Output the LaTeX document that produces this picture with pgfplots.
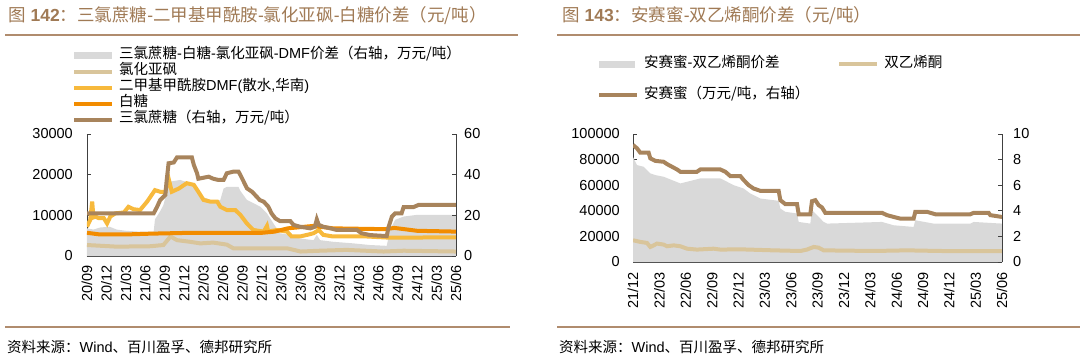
\documentclass[border=0pt]{standalone}
\usepackage{fontspec}
\setmainfont{Liberation Sans}
\newfontfamily\cjk{Noto Sans CJK SC}
\usepackage{pgfplots}
\pgfplotsset{compat=1.18}
\newcommand\zh[1]{{\cjk #1}}
\definecolor{brownL}{HTML}{A8845C}
\definecolor{beige}{HTML}{D9C59B}
\definecolor{grayF}{HTML}{D9D9D9}
\definecolor{sugar}{HTML}{F28C00}
\definecolor{dmf}{HTML}{F7B93C}
\definecolor{titlec}{HTML}{A07A55}
\definecolor{rulec}{HTML}{B08C6E}
\pgfplotsset{
  base/.style={scale only axis, width=369pt, xmin=0,
    scaled y ticks=false,
    ticklabel style={font=\fontsize{14.5}{16}\selectfont, inner sep=0pt},
    /pgf/number format/assume math mode=true,
    /pgf/number format/fixed,
    /pgf/number format/precision=0,
    /pgf/number format/1000 sep={},
    axis line style={black!75, line width=0.8pt},
    tick style={black!75, line width=0.8pt},
    major tick length=4pt, tick align=inside,
    legend image code/.code={\draw[##1] (0pt,0pt) -- (38pt,0pt);},
  },
  lw/.style={line width=4pt},
}
\begin{document}
\begin{tikzpicture}
% ---------------- left panel ----------------
\node[anchor=west, text=titlec, font=\fontsize{17.5}{20}\selectfont, inner sep=0pt] at (8pt,344pt)
  {\zh{图} \textbf{142}\zh{：三氯蔗糖}-\zh{二甲基甲酰胺}-\zh{氯化亚砜}-\zh{白糖价差（元/吨）}};
\draw[rulec, line width=1.5pt] (5pt,325pt) -- (518pt,325pt);
\draw[rulec, line width=1.5pt] (5pt,33pt) -- (510pt,33pt);
\node[anchor=west, font=\fontsize{14.5}{16}\selectfont, inner sep=0pt] at (7pt,13pt)
  {\zh{资料来源：}Wind\zh{、百川盈孚、德邦研究所}};

\begin{axis}[base, at={(87pt,104pt)}, anchor=south west, height=122pt,
  xmax=57, ymin=0, ymax=30000, ytick={0,10000,20000,30000},
  axis y line*=left, axis x line*=bottom,
  xtick={0,3,...,57},
  xticklabels={20/09,20/12,21/03,21/06,21/09,21/12,22/03,22/06,22/09,22/12,23/03,23/06,23/09,23/12,24/03,24/06,24/09,24/12,25/03,25/06},
  xticklabel style={rotate=90, anchor=east}, xticklabel shift=9pt,
  yticklabel shift=14pt,
  legend style={at={(axis description cs:-0.0407,1.71)}, anchor=north west,
    draw=none, fill=none, inner sep=0pt, row sep=0pt, column sep=5pt,
    font=\fontsize{14.5}{16}\selectfont,
    nodes={inner sep=0pt, text height=11pt, text depth=5pt}},
  legend cell align=left,
]
\addplot[fill=grayF, draw=none, area legend,
  legend image code/.code={\fill[grayF] (0pt,-3.5pt) rectangle (38pt,3.5pt);}] coordinates {
(0,6800)(1,6500)(2,7000)(3.5,7200)(4.6,6500)(6,6200)(8,6000)(10.3,6000)(10.5,9000)(11.3,11000)(11.8,12500)(12.3,15500)(12.9,18300)(14.4,18700)(15.4,18200)(16.5,17000)(17.5,14600)(18.5,14200)(19.5,13400)(20.6,13800)(21.1,16600)(21.6,17000)(23.4,17000)(23.7,16000)(24.7,13800)(25.7,13000)(26.8,12100)(27.8,10500)(28.8,8000)(29.8,5600)(31.4,5200)(32.9,4300)(35,3900)(35.5,5200)(36,3900)(38,3500)(41.2,3100)(43.7,2700)(46.3,2500)(46.8,6400)(47.6,8900)(48.9,9700)(50.9,10100)(57,10100)
} \closedcycle;
\addlegendentry{\zh{三氯蔗糖}-\zh{白糖}-\zh{氯化亚砜}-DMF\zh{价差（右轴，万元/吨）}}
\addplot[beige, lw] coordinates {
(0,2700)(4.6,2300)(9.8,2400)(11.8,2700)(12.9,4800)(13.9,3900)(15.9,3500)(17.5,3100)(19.5,3300)(21.6,2800)(22.6,1900)(28.3,1900)(30.9,1900)(33,1100)(36,1300)(40.1,1500)(45.8,1100)(48.9,1300)(57,1100)
};
\addlegendentry{\zh{氯化亚砜}}
\addplot[dmf, lw] coordinates {
(0,7200)(0.5,8900)(0.8,13400)(1.0,9500)(1.3,9700)(1.8,9300)(2.6,9300)(3.1,8000)(3.6,9700)(4.4,10500)(5.7,10700)(6.4,12100)(7.2,11500)(8.2,11300)(9.3,13400)(10.5,16200)(11.3,15800)(12.1,15800)(12.6,19100)(13.1,15800)(14.2,16600)(15.4,17900)(16.5,17500)(17.2,15800)(18,13800)(19,13400)(20.1,13400)(20.6,12100)(21.6,11300)(22.9,11300)(23.7,10100)(24.7,8000)(25.7,6400)(27.3,6000)(27.8,7400)(28,6000)(29.3,6400)(30.9,6000)(31.6,4800)(32.9,4800)(34,5200)(35,5600)(35.8,6400)(36.5,5200)(38,4800)(43.2,4800)(46.8,4500)(57,4600)
};
\addlegendentry{\zh{二甲基甲酰胺}DMF(\zh{散水},\zh{华南})}
\addplot[sugar, lw] coordinates {
(0,5700)(2,5300)(6,5300)(10,5500)(16,5700)(22,5700)(27,5700)(29,6000)(31,6800)(35,7400)(38,6800)(46,6600)(47.5,6900)(51,6200)(57,6000)
};
\addlegendentry{\zh{白糖}}
\addlegendimage{brownL, lw}
\addlegendentry{\zh{三氯蔗糖（右轴，万元/吨）}}
\end{axis}

\begin{axis}[base, at={(87pt,104pt)}, anchor=south west, height=122pt,
  xmax=57, ymin=0, ymax=60, ytick={0,20,40,60},
  axis y line*=right, axis x line=none,
  yticklabel shift=8pt,
]
\addplot[brownL, lw] coordinates {
(0,21)(10.3,21)(10.8,24)(11.3,27.5)(12.1,30)(12.3,37)(12.6,45.6)(13.4,46)(13.9,48.5)(16.2,48.5)(16.5,44.8)(17,40.7)(17.2,38)(18.8,39)(19.5,38)(20.3,37.4)(21.1,37.4)(21.6,40.7)(22.6,41.5)(23.4,41.5)(23.7,39.8)(24.2,36.6)(24.7,33.3)(25.5,31.6)(26.2,29.2)(26.7,27.5)(27.3,26.7)(28,24.3)(28.5,21)(29.1,18.5)(29.8,17.2)(31.4,17.2)(31.9,15.3)(32.9,14.4)(34.5,13.6)(35.2,14.4)(35.5,18)(35.8,15.3)(36.5,14.4)(37.6,13.6)(38.6,12.8)(41.7,12.8)(42.4,11.2)(43.7,10.3)(46.3,9.8)(46.6,14.4)(47.1,19.4)(47.6,21)(48.6,21)(48.9,24)(50.4,24)(51.2,25.1)(57,25.1)
};
\end{axis}

% ---------------- right panel ----------------
\node[anchor=west, text=titlec, font=\fontsize{17.5}{20}\selectfont, inner sep=0pt] at (562pt,344pt)
  {\zh{图} \textbf{143}\zh{：安赛蜜}-\zh{双乙烯酮价差（元/吨）}};
\draw[rulec, line width=1.5pt] (557pt,325pt) -- (1080pt,325pt);
\draw[rulec, line width=1.5pt] (557pt,33pt) -- (1080pt,33pt);
\node[anchor=west, font=\fontsize{14.5}{16}\selectfont, inner sep=0pt] at (559pt,13pt)
  {\zh{资料来源：}Wind\zh{、百川盈孚、德邦研究所}};

\begin{axis}[base, at={(633pt,98pt)}, anchor=south west, height=128pt,
  xmax=42, ymin=0, ymax=100000, ytick={0,20000,40000,60000,80000,100000},
  axis y line*=left, axis x line*=bottom,
  xtick={0,3,...,42},
  xticklabels={21/12,22/03,22/06,22/09,22/12,23/03,23/06,23/09,23/12,24/03,24/06,24/09,24/12,25/03,25/06},
  xticklabel style={rotate=90, anchor=east}, xticklabel shift=10pt,
  yticklabel shift=13pt,
  legend columns=2,
  legend style={at={(axis description cs:-0.0976,1.61)}, anchor=north west,
    draw=none, fill=none, inner sep=0pt, row sep=15pt, column sep=5pt,
    font=\fontsize{14.5}{16}\selectfont,
    nodes={inner sep=0pt, text height=11pt, text depth=5pt},
    /tikz/every even column/.append style={column sep=28pt}},
  legend cell align=left,
]
\addplot[fill=grayF, draw=none, area legend,
  legend image code/.code={\fill[grayF] (0pt,-3.5pt) rectangle (36pt,3.5pt);}] coordinates {
(0,82000)(0.46,75700)(1.21,74400)(1.97,69200)(2.54,67900)(3.49,66600)(4.44,64000)(5.39,61400)(6.15,62700)(6.91,64000)(7.66,65300)(9.94,65300)(10.7,62700)(11.46,60000)(12.6,57400)(13.35,53500)(14.49,49600)(16.01,48300)(16.58,47800)(16.77,41800)(17.34,39200)(18.67,37900)(18.86,31300)(20.18,30000)(20.37,40500)(20.94,36600)(21.7,31300)(22.08,30000)(28.34,31300)(29.67,28700)(31.94,27400)(32.13,32600)(34.22,30000)(38.4,30000)(38.77,31300)(42,30000)
} \closedcycle;
\addlegendentry{\zh{安赛蜜}-\zh{双乙烯酮价差}}
\addplot[beige, lw] coordinates {
(0,17000)(0.83,15700)(1.59,14900)(1.97,11750)(2.35,13000)(2.73,14400)(3.49,13600)(3.87,12300)(4.63,13000)(5.39,12300)(6.15,10400)(7.28,9700)(9.18,10400)(9.94,9700)(12.22,9900)(16.01,9100)(19.05,8600)(19.8,9700)(20.56,11750)(21.13,11200)(21.7,9100)(27.39,8600)(31.19,9100)(34.98,8600)(42,8400)
};
\addlegendentry{\zh{双乙烯酮}}
\addlegendimage{brownL, lw}
\addlegendentry{\zh{安赛蜜（万元/吨，右轴）}}
\end{axis}

\begin{axis}[base, at={(633pt,98pt)}, anchor=south west, height=128pt,
  xmax=42, ymin=0, ymax=10, ytick={0,2,4,6,8,10},
  axis y line*=right, axis x line=none,
  yticklabel shift=11pt,
]
\addplot[brownL, lw] coordinates {
(0,9.14)(0.46,8.88)(0.83,8.54)(1.78,8.54)(1.97,8.1)(2.54,7.9)(3.49,7.83)(3.87,7.65)(4.44,7.44)(5.01,7.23)(5.39,7.05)(7.28,7.05)(7.66,7.23)(9.94,7.23)(10.51,7.05)(11.08,6.71)(12.22,6.71)(12.6,6.4)(13.17,6.0)(13.73,5.74)(14.49,5.56)(16.58,5.56)(16.77,4.83)(17.34,4.52)(18.67,4.52)(18.86,3.73)(20.18,3.73)(20.37,4.75)(20.75,4.83)(21.13,4.44)(21.51,4.26)(21.89,3.84)(28.34,3.84)(28.91,3.66)(29.67,3.52)(30.43,3.39)(31.94,3.39)(32.13,3.92)(33.46,3.92)(34.41,3.73)(38.4,3.73)(38.77,3.84)(40.48,3.84)(40.67,3.66)(42,3.52)
};
\end{axis}
\pgfresetboundingbox
\path[use as bounding box] (0,0) rectangle (1080pt,360pt);
\end{tikzpicture}
\end{document}
